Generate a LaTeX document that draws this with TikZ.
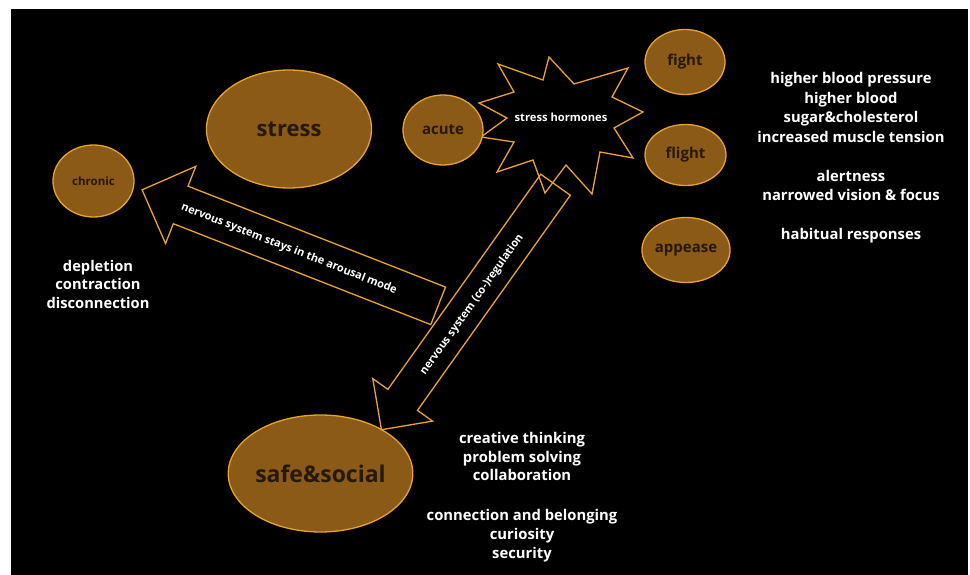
\documentclass[tikz,border=0pt]{standalone}
\usepackage{fontspec}
\setmainfont{Open Sans}
\usetikzlibrary{shapes.arrows,shapes.geometric}
\definecolor{fillbrown}{RGB}{138,90,22}
\definecolor{edgeorange}{RGB}{232,162,52}
\definecolor{darktext}{RGB}{38,24,10}
\begin{document}
\begin{tikzpicture}[x=1pt,y=-1pt,
  blob/.style={ellipse, draw=edgeorange, fill=fillbrown, line width=1.3pt, text=darktext, inner sep=0pt},
  listtext/.style={text=white, align=center, inner sep=0pt},
  blockarrow/.style={single arrow, draw=edgeorange, line width=1.3pt, shape border rotate=180,
    single arrow tip angle=90, text height=7.5pt, text depth=2.5pt, inner xsep=2pt},
  arrowtext/.style={text=white, font=\bfseries\fontsize{11}{13}\selectfont, inner sep=0pt},
  starline/.style={draw=edgeorange, line width=1.3pt, line join=miter}]
\fill[white] (0,0) rectangle (970,575);
\fill[black] (11,9) rectangle (968,575);
\useasboundingbox (0,0) rectangle (970,575);

% star outline
\draw[starline] (549,57) -- (574,84) -- (628,68) -- (612,97) -- (643,112) -- (614,128)
  -- (633,158) -- (600,152) -- (592,194) -- (566,165) -- (545,193) -- (533,160)
  -- (497,172) -- (514,142) -- (481,137) -- (507,118) -- (479,103) -- (514,92)
  -- (498,64) -- (543,80) -- cycle;
\node[text=white, font=\bfseries\fontsize{11.2}{13}\selectfont] (hormones) at (561,117) {stress hormones};

% ellipses
\node[blob, minimum width=81pt, minimum height=72pt, font=\bfseries\fontsize{11.5}{13}\selectfont] (chronic) at (93.5,181) {chronic};
\node[blob, minimum width=165pt, minimum height=118pt, font=\bfseries\fontsize{22}{26}\selectfont] (stress) at (289,129) {stress};
\node[blob, minimum width=80pt, minimum height=70pt, font=\bfseries\fontsize{15}{18}\selectfont] (acute) at (443,130) {acute};
\node[blob, minimum width=80pt, minimum height=65pt, font=\bfseries\fontsize{15}{18}\selectfont] (fight) at (685,62) {fight};
\node[blob, minimum width=81pt, minimum height=61pt, font=\bfseries\fontsize{15}{18}\selectfont] (flight) at (685.5,155) {flight};
\node[blob, minimum width=82pt, minimum height=65pt, font=\bfseries\fontsize{15}{18}\selectfont] (appease) at (686,250) {appease};
\node[blob, minimum width=165pt, minimum height=117pt, font=\bfseries\fontsize{23}{27}\selectfont] (safe) at (320.5,473.5) {safe\&social};

% block arrows
\node[blockarrow, rotate=-21.4, minimum height=318pt, minimum width=82pt,
  single arrow head extend=21.3pt, inner ysep=14.5pt] (arousal) at (299.5,251.5) {};
\node[arrowtext, rotate=-21.4] (arousaltext) at (289,249)
  {nervous system stays in the arousal mode};
\node[blockarrow, rotate=54.6, minimum height=300.6pt, minimum width=72pt,
  single arrow head extend=18.5pt, inner ysep=12.5pt] (coreg) at (473.75,299.85) {};
\node[arrowtext, rotate=54.6] (coregtext) at (472,305)
  {nervous system (co-)regulation};

% text lists
\node[listtext, font=\bfseries\fontsize{14.7}{18.5}\selectfont] (depl) at (98,284)
  {depletion\\contraction\\disconnection};
\node[listtext, font=\bfseries\fontsize{14.8}{19.5}\selectfont] (effects) at (851,158)
  {higher blood pressure\\higher blood\\sugar\&cholesterol\\increased muscle tension\\[19.5pt]alertness\\narrowed vision \& focus\\[19.5pt]habitual responses};
\node[listtext, font=\bfseries\fontsize{14.8}{18.7}\selectfont] (benefits) at (522,497)
  {creative thinking\\problem solving\\collaboration\\[21pt]connection and belonging\\curiosity\\security};
\end{tikzpicture}
\end{document}
